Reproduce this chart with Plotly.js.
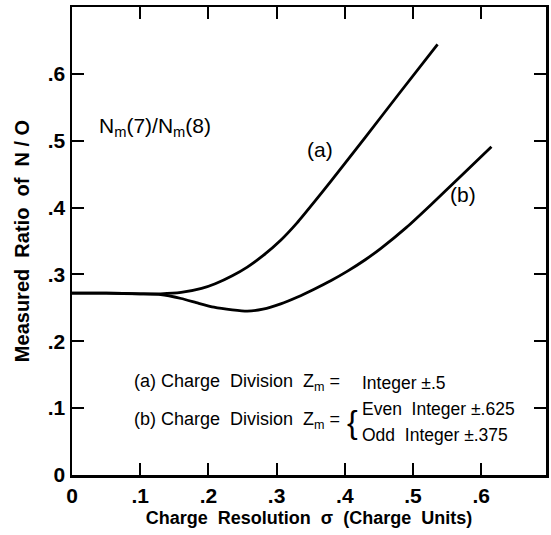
<!DOCTYPE html>
<html>
<head>
<meta charset="utf-8">
<script src="https://cdn.plot.ly/plotly-3.0.1.min.js"></script>
<style>html,body{margin:0;padding:0;background:#fff;}</style>
</head>
<body>
<div id="chart" style="width:551px;height:535px;"></div>
<script>
// Curve (a): Charge Division Zm = Integer ±.5
const xA = [0, 0.05, 0.10, 0.13, 0.16, 0.19, 0.21, 0.235, 0.257, 0.28, 0.306, 0.33, 0.355, 0.38, 0.43, 0.48, 0.536];
const yA = [0.272, 0.272, 0.271, 0.271, 0.273, 0.279, 0.286, 0.298, 0.311, 0.328, 0.351, 0.377, 0.408, 0.440, 0.505, 0.571, 0.644];
// Curve (b): Even Integer ±.625 / Odd Integer ±.375
const xB = [0, 0.05, 0.10, 0.13, 0.16, 0.185, 0.208, 0.235, 0.257, 0.28, 0.306, 0.33, 0.355, 0.38, 0.404, 0.43, 0.453, 0.49, 0.526, 0.57, 0.615];
const yB = [0.272, 0.272, 0.271, 0.270, 0.264, 0.257, 0.251, 0.247, 0.245, 0.248, 0.256, 0.266, 0.278, 0.291, 0.305, 0.322, 0.339, 0.370, 0.404, 0.447, 0.491];

const xTickVals = [0, 0.1, 0.2, 0.3, 0.4, 0.5, 0.6];
const xTickText = ['0', '.1', '.2', '.3', '.4', '.5', '.6'];
const yTickVals = [0, 0.1, 0.2, 0.3, 0.4, 0.5, 0.6];
const yTickText = ['0', '.1', '.2', '.3', '.4', '.5', '.6'];

const lineStyle = {color: '#000', width: 2.8, shape: 'spline', smoothing: 0.5};
const traces = [
  {x: xA, y: yA, mode: 'lines', line: lineStyle, hoverinfo: 'skip', showlegend: false},
  {x: xB, y: yB, mode: 'lines', line: lineStyle, hoverinfo: 'skip', showlegend: false}
];

const fam = '"Liberation Sans", Arial, sans-serif';
const txtL = {family: fam, size: 18, color: '#000'};
const txtR = {family: fam, size: 17.5, color: '#000'};
const layout = {
  width: 551, height: 535,
  margin: {l: 72, r: 5, t: 7, b: 60},
  paper_bgcolor: '#fff', plot_bgcolor: '#fff',
  font: {family: fam, color: '#000'},
  xaxis: {
    range: [0, 0.695], showgrid: false, zeroline: false,
    showline: true, linecolor: '#000', linewidth: 2.5, mirror: 'ticks',
    ticks: 'inside', ticklen: 12, tickwidth: 2, tickcolor: '#000',
    tickvals: xTickVals, ticktext: xTickText,
    tickfont: {family: fam, size: 21, color: '#000', weight: 'bold'},
    title: {text: 'Charge  Resolution  σ  (Charge  Units)', font: {family: fam, size: 18, color: '#000', weight: 'bold'}, standoff: 6}
  },
  yaxis: {
    range: [0, 0.70], showgrid: false, zeroline: false,
    showline: true, linecolor: '#000', linewidth: 2.5, mirror: 'ticks',
    ticks: 'inside', ticklen: 12, tickwidth: 2, tickcolor: '#000',
    tickvals: yTickVals, ticktext: yTickText,
    tickfont: {family: fam, size: 21, color: '#000', weight: 'bold'},
    title: {text: 'Measured  Ratio  of  N / O', font: {family: fam, size: 20, color: '#000', weight: 'bold'}, standoff: 13}
  },
  annotations: [
    {xref: 'x', yref: 'y', x: 0.037, y: 0.52, xanchor: 'left', yanchor: 'middle', showarrow: false,
     text: 'N<sub>m</sub>(7)/N<sub>m</sub>(8)', font: {family: fam, size: 21, color: '#000'}},
    {xref: 'x', yref: 'y', x: 0.364, y: 0.487, showarrow: false, text: '(a)', font: {family: fam, size: 21, color: '#000'}},
    {xref: 'x', yref: 'y', x: 0.573, y: 0.419, showarrow: false, text: '(b)', font: {family: fam, size: 21, color: '#000'}},
    {xref: 'x', yref: 'y', x: 0.088, y: 0.138, xanchor: 'left', yanchor: 'middle', showarrow: false,
     text: '(a) Charge  Division  Z<sub>m</sub> =', font: txtL},
    {xref: 'x', yref: 'y', x: 0.422, y: 0.138, xanchor: 'left', yanchor: 'middle', showarrow: false,
     text: 'Integer ±.5', font: txtR},
    {xref: 'x', yref: 'y', x: 0.088, y: 0.082, xanchor: 'left', yanchor: 'middle', showarrow: false,
     text: '(b) Charge  Division  Z<sub>m</sub> =', font: txtL},
    {xref: 'x', yref: 'y', x: 0.400, y: 0.080, xanchor: 'left', yanchor: 'middle', showarrow: false,
     text: '{', font: {family: fam, size: 32, color: '#000'}},
    {xref: 'x', yref: 'y', x: 0.422, y: 0.099, xanchor: 'left', yanchor: 'middle', showarrow: false,
     text: 'Even  Integer ±.625', font: txtR},
    {xref: 'x', yref: 'y', x: 0.422, y: 0.060, xanchor: 'left', yanchor: 'middle', showarrow: false,
     text: 'Odd  Integer ±.375', font: txtR}
  ]
};
Plotly.newPlot('chart', traces, layout, {staticPlot: true, displayModeBar: false});
</script>
</body>
</html>
